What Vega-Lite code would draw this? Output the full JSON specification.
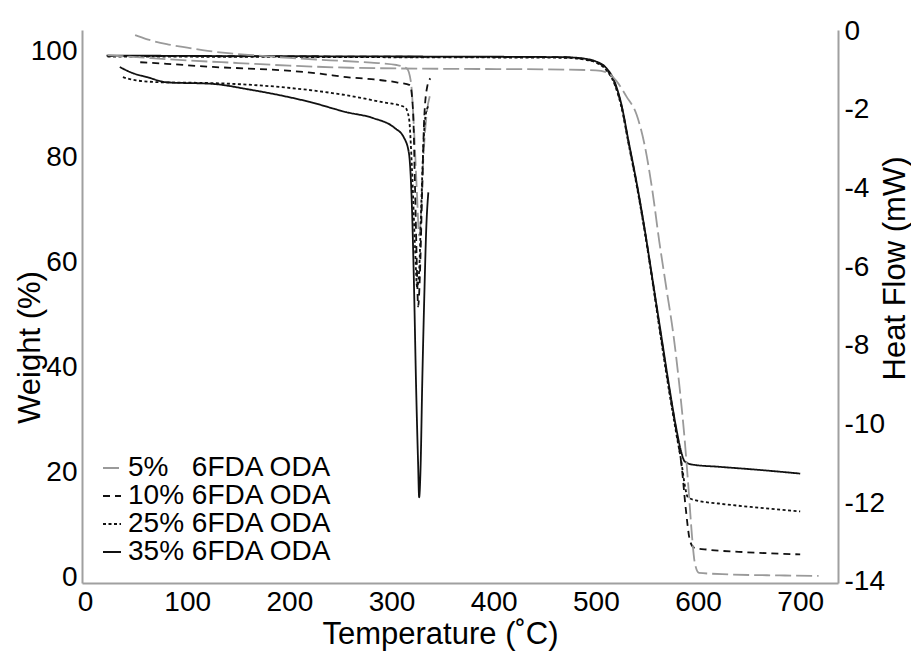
{
  "$schema": "https://vega.github.io/schema/vega-lite/v6.json",
  "width": 756,
  "height": 553,
  "autosize": "none",
  "padding": {"left": 82, "top": 30, "right": 73, "bottom": 69},
  "background": "white",
  "config": {
    "view": {"stroke": null},
    "font": "Liberation Sans",
    "axis": {
      "domainColor": "#a0a0a0",
      "domainWidth": 2,
      "ticks": false,
      "grid": false,
      "labelFont": "Liberation Sans",
      "labelFontSize": 28,
      "labelColor": "#000",
      "titleFont": "Liberation Sans",
      "titleFontSize": 31,
      "titleFontWeight": "normal",
      "titleColor": "#000"
    },
    "legend": {"labelFont": "Liberation Sans"}
  },
  "datasets": {
    "tga": [
      {"s": "35%", "T": 21, "w": 99.3}, {"s": "35%", "T": 50, "w": 99.3}, {"s": "35%", "T": 100, "w": 99.25}, {"s": "35%", "T": 200, "w": 99.2}, {"s": "35%", "T": 300, "w": 99.15}, {"s": "35%", "T": 400, "w": 99.1}, {"s": "35%", "T": 470, "w": 99.0}, {"s": "35%", "T": 490, "w": 98.7}, {"s": "35%", "T": 500, "w": 98.2}, {"s": "35%", "T": 510, "w": 97}, {"s": "35%", "T": 518, "w": 94.5}, {"s": "35%", "T": 525, "w": 90}, {"s": "35%", "T": 532, "w": 83}, {"s": "35%", "T": 540, "w": 75}, {"s": "35%", "T": 548, "w": 66}, {"s": "35%", "T": 556, "w": 56}, {"s": "35%", "T": 564, "w": 46}, {"s": "35%", "T": 572, "w": 36}, {"s": "35%", "T": 579, "w": 28}, {"s": "35%", "T": 584, "w": 23.5}, {"s": "35%", "T": 587, "w": 22}, {"s": "35%", "T": 595, "w": 21.4}, {"s": "35%", "T": 620, "w": 21.0}, {"s": "35%", "T": 660, "w": 20.4}, {"s": "35%", "T": 700, "w": 19.7},
      {"s": "25%", "T": 22, "w": 99.1}, {"s": "25%", "T": 100, "w": 99.1}, {"s": "25%", "T": 300, "w": 99.0}, {"s": "25%", "T": 470, "w": 98.9}, {"s": "25%", "T": 490, "w": 98.5}, {"s": "25%", "T": 500, "w": 98}, {"s": "25%", "T": 510, "w": 96.6}, {"s": "25%", "T": 518, "w": 94}, {"s": "25%", "T": 525, "w": 89.5}, {"s": "25%", "T": 532, "w": 82.5}, {"s": "25%", "T": 540, "w": 74.5}, {"s": "25%", "T": 548, "w": 65.5}, {"s": "25%", "T": 556, "w": 55.5}, {"s": "25%", "T": 564, "w": 45}, {"s": "25%", "T": 572, "w": 35}, {"s": "25%", "T": 579, "w": 27}, {"s": "25%", "T": 584, "w": 21.5}, {"s": "25%", "T": 587, "w": 17.5}, {"s": "25%", "T": 590, "w": 15.2}, {"s": "25%", "T": 598, "w": 14.6}, {"s": "25%", "T": 620, "w": 14.0}, {"s": "25%", "T": 660, "w": 13.2}, {"s": "25%", "T": 700, "w": 12.5},
      {"s": "10%", "T": 22, "w": 99.2}, {"s": "10%", "T": 100, "w": 99.2}, {"s": "10%", "T": 300, "w": 99.1}, {"s": "10%", "T": 470, "w": 99.0}, {"s": "10%", "T": 490, "w": 98.6}, {"s": "10%", "T": 500, "w": 98.1}, {"s": "10%", "T": 510, "w": 96.8}, {"s": "10%", "T": 518, "w": 94.2}, {"s": "10%", "T": 525, "w": 89.8}, {"s": "10%", "T": 532, "w": 82.8}, {"s": "10%", "T": 540, "w": 74.8}, {"s": "10%", "T": 548, "w": 65.8}, {"s": "10%", "T": 556, "w": 55.8}, {"s": "10%", "T": 564, "w": 45.5}, {"s": "10%", "T": 572, "w": 35.5}, {"s": "10%", "T": 579, "w": 27.5}, {"s": "10%", "T": 584, "w": 21}, {"s": "10%", "T": 588, "w": 13}, {"s": "10%", "T": 592, "w": 7}, {"s": "10%", "T": 596, "w": 5.6}, {"s": "10%", "T": 610, "w": 5.2}, {"s": "10%", "T": 640, "w": 4.8}, {"s": "10%", "T": 700, "w": 4.3},
      {"s": "5%", "T": 22, "w": 99.4}, {"s": "5%", "T": 60, "w": 98.9}, {"s": "5%", "T": 100, "w": 98.4}, {"s": "5%", "T": 150, "w": 97.9}, {"s": "5%", "T": 200, "w": 97.4}, {"s": "5%", "T": 260, "w": 97.0}, {"s": "5%", "T": 350, "w": 96.8}, {"s": "5%", "T": 450, "w": 96.7}, {"s": "5%", "T": 500, "w": 96.5}, {"s": "5%", "T": 512, "w": 96}, {"s": "5%", "T": 520, "w": 94.5}, {"s": "5%", "T": 530, "w": 91.5}, {"s": "5%", "T": 540, "w": 88}, {"s": "5%", "T": 548, "w": 82}, {"s": "5%", "T": 555, "w": 74}, {"s": "5%", "T": 562, "w": 64}, {"s": "5%", "T": 569, "w": 55}, {"s": "5%", "T": 576, "w": 46}, {"s": "5%", "T": 582, "w": 36}, {"s": "5%", "T": 587, "w": 26}, {"s": "5%", "T": 591, "w": 16}, {"s": "5%", "T": 594, "w": 8}, {"s": "5%", "T": 597, "w": 2.5}, {"s": "5%", "T": 601, "w": 0.8}, {"s": "5%", "T": 630, "w": 0.5}, {"s": "5%", "T": 680, "w": 0.3}, {"s": "5%", "T": 718, "w": 0.2}
    ],
    "dsc": [
      {"s": "5%", "T": 49, "h": -0.1}, {"s": "5%", "T": 60, "h": -0.2}, {"s": "5%", "T": 80, "h": -0.33}, {"s": "5%", "T": 100, "h": -0.42}, {"s": "5%", "T": 120, "h": -0.5}, {"s": "5%", "T": 140, "h": -0.56}, {"s": "5%", "T": 170, "h": -0.62}, {"s": "5%", "T": 200, "h": -0.68}, {"s": "5%", "T": 240, "h": -0.74}, {"s": "5%", "T": 280, "h": -0.8}, {"s": "5%", "T": 305, "h": -0.86}, {"s": "5%", "T": 315, "h": -0.95}, {"s": "5%", "T": 319, "h": -1.3}, {"s": "5%", "T": 322, "h": -2.5}, {"s": "5%", "T": 325, "h": -4.2}, {"s": "5%", "T": 327, "h": -5.2}, {"s": "5%", "T": 329, "h": -4.6}, {"s": "5%", "T": 331, "h": -3.3}, {"s": "5%", "T": 334, "h": -2.2}, {"s": "5%", "T": 338, "h": -1.6},
      {"s": "10%", "T": 54, "h": -0.79}, {"s": "10%", "T": 80, "h": -0.83}, {"s": "10%", "T": 125, "h": -0.91}, {"s": "10%", "T": 160, "h": -0.95}, {"s": "10%", "T": 191, "h": -0.99}, {"s": "10%", "T": 230, "h": -1.08}, {"s": "10%", "T": 256, "h": -1.17}, {"s": "10%", "T": 280, "h": -1.22}, {"s": "10%", "T": 305, "h": -1.3}, {"s": "10%", "T": 318, "h": -1.37}, {"s": "10%", "T": 321, "h": -2}, {"s": "10%", "T": 323, "h": -4}, {"s": "10%", "T": 325, "h": -6.2}, {"s": "10%", "T": 326, "h": -7.0}, {"s": "10%", "T": 328, "h": -6}, {"s": "10%", "T": 330, "h": -4}, {"s": "10%", "T": 332, "h": -2.2}, {"s": "10%", "T": 335, "h": -1.4}, {"s": "10%", "T": 338, "h": -1.2},
      {"s": "25%", "T": 37, "h": -1.17}, {"s": "25%", "T": 50, "h": -1.25}, {"s": "25%", "T": 76, "h": -1.3}, {"s": "25%", "T": 125, "h": -1.32}, {"s": "25%", "T": 191, "h": -1.42}, {"s": "25%", "T": 256, "h": -1.63}, {"s": "25%", "T": 290, "h": -1.8}, {"s": "25%", "T": 313, "h": -1.93}, {"s": "25%", "T": 317, "h": -2.2}, {"s": "25%", "T": 320, "h": -3.5}, {"s": "25%", "T": 323, "h": -5.5}, {"s": "25%", "T": 325, "h": -6.5}, {"s": "25%", "T": 327, "h": -6.1}, {"s": "25%", "T": 329, "h": -4.5}, {"s": "25%", "T": 331, "h": -3}, {"s": "25%", "T": 333, "h": -2.2}, {"s": "25%", "T": 336, "h": -1.9},
      {"s": "35%", "T": 34, "h": -0.91}, {"s": "35%", "T": 45, "h": -1.05}, {"s": "35%", "T": 61, "h": -1.17}, {"s": "35%", "T": 80, "h": -1.3}, {"s": "35%", "T": 125, "h": -1.34}, {"s": "35%", "T": 160, "h": -1.48}, {"s": "35%", "T": 191, "h": -1.63}, {"s": "35%", "T": 220, "h": -1.8}, {"s": "35%", "T": 256, "h": -2.06}, {"s": "35%", "T": 282, "h": -2.21}, {"s": "35%", "T": 303, "h": -2.46}, {"s": "35%", "T": 312, "h": -2.7}, {"s": "35%", "T": 317, "h": -3.1}, {"s": "35%", "T": 320, "h": -4.5}, {"s": "35%", "T": 322, "h": -6.5}, {"s": "35%", "T": 324, "h": -9}, {"s": "35%", "T": 326, "h": -11.0}, {"s": "35%", "T": 327, "h": -11.85}, {"s": "35%", "T": 328.5, "h": -11}, {"s": "35%", "T": 330, "h": -9}, {"s": "35%", "T": 332, "h": -6.8}, {"s": "35%", "T": 334, "h": -5}, {"s": "35%", "T": 336, "h": -4.1}
    ]
  },
  "encoding": {
    "x": {
      "field": "T", "type": "quantitative",
      "scale": {"domain": [-3, 737], "nice": false, "zero": false},
      "axis": {"values": [0, 100, 200, 300, 400, 500, 600, 700], "labelPadding": 5, "title": "Temperature (˚C)", "titleX": 358, "titleY": 51, "titleBaseline": "middle"}
    },
    "color": {
      "field": "s", "type": "nominal",
      "scale": {"domain": ["5%", "10%", "25%", "35%"], "range": ["#9a9a9a", "#111111", "#111111", "#111111"]},
      "legend": {
        "orient": "none", "legendX": 16, "legendY": 424, "title": null,
        "symbolType": "stroke", "symbolSize": 324, "symbolStrokeWidth": 2,
        "labelFontSize": 28, "labelColor": "#000", "labelOffset": 2, "rowPadding": -2, "labelLimit": 500,
        "labelExpr": "datum.label == '5%' ? '5%\u00a0\u00a0 6FDA ODA' : datum.label + ' 6FDA ODA'"
      }
    },
    "strokeDash": {
      "field": "s", "type": "nominal",
      "scale": {"domain": ["5%", "10%", "25%", "35%"], "range": [[16, 5], [7, 5], [3, 2.5], [1, 0]]}
    }
  },
  "layer": [
    {
      "data": {"name": "tga"},
      "mark": {"type": "line", "strokeWidth": 1.8, "interpolate": "monotone"},
      "encoding": {
        "y": {
          "field": "w", "type": "quantitative",
          "scale": {"domain": [-1.14, 104.19], "nice": false, "zero": false},
          "axis": {"orient": "left", "values": [0, 20, 40, 60, 80, 100], "labelPadding": 5, "title": "Weight (%)", "titleX": -52, "titleY": 317, "titleBaseline": "middle"}
        }
      }
    },
    {
      "data": {"name": "dsc"},
      "mark": {"type": "line", "strokeWidth": 1.8, "interpolate": "monotone"},
      "encoding": {
        "y": {
          "field": "h", "type": "quantitative",
          "scale": {"domain": [-14.03, 0.03], "nice": false, "zero": false},
          "axis": {"orient": "right", "values": [0, -2, -4, -6, -8, -10, -12, -14], "labelExpr": "'' + datum.value", "labelPadding": 6, "title": "Heat Flow (mW)", "titleAngle": -90, "titleX": 57, "titleY": 238, "titleBaseline": "middle"}
        }
      }
    }
  ],
  "resolve": {"scale": {"y": "independent"}}
}
